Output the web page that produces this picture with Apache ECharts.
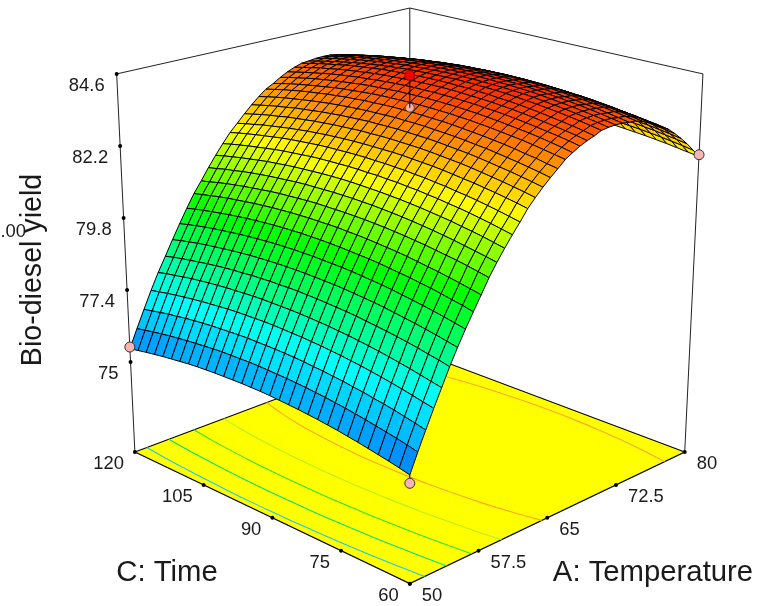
<!DOCTYPE html>
<html><head><meta charset="utf-8">
<style>html,body{margin:0;padding:0;background:#fff}#c{width:758px;height:606px}</style>
<script src="https://cdn.jsdelivr.net/npm/echarts@6/dist/echarts.min.js"></script>
</head><body><div id="c"></div>
<script>
const temperatureRange = [50, 80];
const timeRange = [60, 120];
const yTickLabels = ['84.6', '82.2', '79.8', '77.4', '75'];
const timeTickLabels = ['60', '75', '90', '105', '120'];
const temperatureTickLabels = ['50', '57.5', '65', '72.5', '80'];
// rows: temperature 50..80 in 41 steps, columns: time 60..120 in 31 steps
const yieldGrid = [
[75.26,75.34,75.41,75.47,75.53,75.59,75.64,75.69,75.73,75.77,75.80,75.83,75.85,75.87,75.89,75.90,75.90,75.90,75.89,75.88,75.87,75.85,75.83,75.80,75.76,75.72,75.68,75.63,75.58,75.52,75.46],
[75.87,75.95,76.02,76.08,76.14,76.20,76.25,76.30,76.34,76.38,76.41,76.44,76.46,76.48,76.49,76.50,76.51,76.51,76.50,76.49,76.48,76.46,76.43,76.40,76.37,76.33,76.29,76.24,76.19,76.13,76.07],
[76.45,76.53,76.60,76.67,76.73,76.78,76.84,76.88,76.93,76.96,77.00,77.02,77.05,77.07,77.08,77.09,77.09,77.09,77.09,77.08,77.06,77.04,77.02,76.99,76.96,76.92,76.87,76.83,76.77,76.71,76.65],
[77.02,77.09,77.16,77.23,77.29,77.35,77.40,77.45,77.49,77.53,77.56,77.59,77.61,77.63,77.64,77.65,77.66,77.66,77.65,77.64,77.63,77.61,77.58,77.55,77.52,77.48,77.44,77.39,77.34,77.28,77.22],
[77.56,77.63,77.70,77.77,77.83,77.89,77.94,77.99,78.03,78.07,78.10,78.13,78.15,78.17,78.18,78.19,78.19,78.19,78.19,78.18,78.16,78.14,78.12,78.09,78.06,78.02,77.98,77.93,77.87,77.82,77.75],
[78.11,78.19,78.25,78.32,78.38,78.43,78.48,78.52,78.56,78.60,78.63,78.65,78.67,78.69,78.70,78.71,78.71,78.70,78.70,78.68,78.67,78.64,78.62,78.59,78.55,78.51,78.46,78.41,78.36,78.30,78.23],
[78.61,78.68,78.75,78.81,78.87,78.92,78.97,79.02,79.06,79.09,79.12,79.15,79.17,79.18,79.19,79.20,79.20,79.20,79.19,79.18,79.16,79.14,79.11,79.08,79.04,79.00,78.96,78.91,78.85,78.79,78.72],
[79.08,79.15,79.22,79.28,79.34,79.39,79.44,79.49,79.53,79.56,79.59,79.62,79.64,79.65,79.66,79.67,79.67,79.67,79.66,79.65,79.63,79.61,79.58,79.55,79.51,79.47,79.43,79.38,79.32,79.26,79.19],
[79.52,79.60,79.66,79.73,79.79,79.84,79.89,79.93,79.97,80.01,80.04,80.06,80.08,80.10,80.11,80.12,80.12,80.12,80.11,80.10,80.08,80.06,80.03,80.00,79.96,79.92,79.87,79.82,79.77,79.71,79.64],
[79.95,80.02,80.09,80.15,80.21,80.26,80.31,80.36,80.40,80.43,80.46,80.49,80.51,80.52,80.54,80.54,80.54,80.54,80.53,80.52,80.50,80.48,80.45,80.42,80.38,80.34,80.30,80.25,80.19,80.13,80.07],
[80.39,80.46,80.53,80.59,80.64,80.69,80.74,80.78,80.82,80.85,80.88,80.90,80.92,80.93,80.94,80.94,80.94,80.94,80.93,80.91,80.89,80.87,80.84,80.80,80.76,80.72,80.67,80.62,80.56,80.49,80.43],
[80.77,80.84,80.90,80.96,81.02,81.07,81.12,81.16,81.20,81.23,81.26,81.28,81.30,81.31,81.32,81.32,81.32,81.31,81.30,81.29,81.27,81.24,81.21,81.18,81.14,81.10,81.05,80.99,80.94,80.87,80.81],
[81.12,81.19,81.26,81.32,81.37,81.43,81.47,81.51,81.55,81.58,81.61,81.63,81.65,81.66,81.67,81.68,81.68,81.67,81.66,81.64,81.62,81.60,81.57,81.53,81.50,81.45,81.40,81.35,81.29,81.23,81.16],
[81.45,81.52,81.59,81.65,81.71,81.76,81.80,81.85,81.88,81.92,81.94,81.97,81.98,82.00,82.00,82.01,82.01,82.00,81.99,81.98,81.96,81.93,81.90,81.87,81.83,81.78,81.73,81.68,81.62,81.56,81.49],
[81.76,81.83,81.90,81.96,82.02,82.07,82.11,82.16,82.19,82.23,82.25,82.28,82.29,82.31,82.31,82.32,82.32,82.31,82.30,82.29,82.27,82.24,82.21,82.18,82.14,82.09,82.04,81.99,81.93,81.87,81.80],
[82.09,82.16,82.22,82.28,82.33,82.38,82.42,82.46,82.50,82.53,82.55,82.57,82.59,82.60,82.60,82.60,82.60,82.59,82.58,82.56,82.54,82.51,82.48,82.44,82.40,82.35,82.30,82.25,82.18,82.12,82.05],
[82.35,82.42,82.48,82.54,82.59,82.64,82.69,82.73,82.76,82.79,82.82,82.84,82.85,82.86,82.87,82.87,82.86,82.86,82.84,82.82,82.80,82.77,82.74,82.70,82.66,82.62,82.56,82.51,82.45,82.38,82.31],
[82.59,82.66,82.72,82.78,82.83,82.88,82.93,82.97,83.00,83.03,83.06,83.08,83.09,83.10,83.11,83.11,83.10,83.10,83.08,83.06,83.04,83.01,82.98,82.94,82.90,82.86,82.80,82.75,82.69,82.62,82.55],
[82.81,82.88,82.94,83.00,83.05,83.10,83.15,83.18,83.22,83.25,83.27,83.29,83.31,83.32,83.32,83.33,83.32,83.31,83.30,83.28,83.26,83.23,83.20,83.16,83.12,83.07,83.02,82.97,82.91,82.84,82.77],
[83.01,83.07,83.14,83.19,83.25,83.30,83.34,83.38,83.41,83.44,83.47,83.49,83.50,83.51,83.52,83.52,83.52,83.51,83.49,83.48,83.45,83.43,83.39,83.36,83.31,83.27,83.22,83.16,83.10,83.03,82.96],
[83.22,83.28,83.34,83.40,83.45,83.49,83.53,83.57,83.60,83.63,83.65,83.67,83.68,83.69,83.69,83.69,83.68,83.67,83.66,83.64,83.61,83.58,83.55,83.51,83.46,83.41,83.36,83.30,83.24,83.17,83.09],
[83.36,83.43,83.49,83.55,83.60,83.64,83.68,83.72,83.75,83.78,83.80,83.82,83.83,83.84,83.84,83.84,83.83,83.82,83.80,83.78,83.76,83.73,83.69,83.65,83.61,83.56,83.51,83.45,83.38,83.32,83.24],
[83.49,83.56,83.62,83.67,83.72,83.77,83.81,83.85,83.88,83.90,83.93,83.94,83.96,83.96,83.97,83.96,83.96,83.95,83.93,83.91,83.88,83.85,83.82,83.78,83.74,83.69,83.63,83.57,83.51,83.44,83.37],
[83.59,83.66,83.72,83.77,83.82,83.87,83.91,83.95,83.98,84.01,84.03,84.04,84.06,84.07,84.07,84.07,84.06,84.05,84.03,84.01,83.99,83.96,83.92,83.88,83.84,83.79,83.73,83.68,83.61,83.54,83.47],
[83.67,83.74,83.80,83.85,83.90,83.95,83.99,84.03,84.06,84.08,84.11,84.12,84.14,84.14,84.15,84.15,84.14,84.13,84.11,84.09,84.07,84.04,84.00,83.96,83.92,83.87,83.81,83.75,83.69,83.62,83.55],
[83.77,83.83,83.89,83.94,83.99,84.03,84.07,84.10,84.13,84.16,84.18,84.19,84.20,84.21,84.21,84.20,84.19,84.18,84.16,84.14,84.11,84.08,84.04,84.00,83.95,83.90,83.84,83.78,83.71,83.64,83.57],
[83.80,83.86,83.92,83.97,84.02,84.06,84.10,84.14,84.17,84.19,84.21,84.22,84.23,84.24,84.24,84.24,84.23,84.21,84.19,84.17,84.14,84.11,84.07,84.03,83.98,83.93,83.87,83.81,83.75,83.68,83.60],
[83.81,83.87,83.93,83.98,84.03,84.07,84.11,84.15,84.18,84.20,84.22,84.23,84.24,84.25,84.25,84.25,84.24,84.22,84.20,84.18,84.15,84.12,84.08,84.04,83.99,83.94,83.88,83.82,83.76,83.69,83.61],
[83.80,83.86,83.92,83.97,84.02,84.06,84.10,84.13,84.16,84.19,84.21,84.22,84.23,84.24,84.24,84.23,84.22,84.21,84.19,84.17,84.14,84.11,84.07,84.03,83.98,83.93,83.87,83.81,83.74,83.67,83.60],
[83.76,83.82,83.88,83.94,83.98,84.03,84.06,84.10,84.13,84.15,84.17,84.19,84.20,84.20,84.20,84.20,84.19,84.17,84.15,84.13,84.10,84.07,84.03,83.99,83.94,83.89,83.83,83.77,83.71,83.64,83.56],
[83.74,83.80,83.86,83.91,83.95,83.99,84.03,84.06,84.09,84.11,84.13,84.14,84.15,84.15,84.15,84.14,84.13,84.11,84.09,84.06,84.03,84.00,83.96,83.91,83.86,83.81,83.75,83.68,83.61,83.54,83.46],
[83.66,83.72,83.78,83.83,83.87,83.91,83.95,83.98,84.01,84.03,84.04,84.06,84.06,84.07,84.06,84.06,84.04,84.03,84.01,83.98,83.95,83.91,83.87,83.83,83.78,83.72,83.67,83.60,83.53,83.46,83.38],
[83.56,83.62,83.67,83.72,83.77,83.81,83.84,83.87,83.90,83.92,83.94,83.95,83.96,83.96,83.96,83.95,83.94,83.92,83.90,83.88,83.85,83.81,83.77,83.72,83.67,83.62,83.56,83.50,83.43,83.35,83.28],
[83.43,83.49,83.54,83.59,83.64,83.68,83.72,83.75,83.77,83.79,83.81,83.82,83.83,83.83,83.83,83.82,83.81,83.80,83.77,83.75,83.72,83.68,83.64,83.60,83.55,83.49,83.43,83.37,83.30,83.23,83.15],
[83.28,83.34,83.39,83.44,83.49,83.53,83.57,83.60,83.62,83.64,83.66,83.67,83.68,83.68,83.68,83.67,83.66,83.65,83.62,83.60,83.57,83.53,83.49,83.45,83.40,83.34,83.28,83.22,83.15,83.08,83.00],
[83.15,83.21,83.26,83.31,83.35,83.38,83.42,83.45,83.47,83.49,83.50,83.51,83.52,83.51,83.51,83.50,83.48,83.47,83.44,83.41,83.38,83.34,83.30,83.25,83.20,83.14,83.08,83.01,82.94,82.86,82.78],
[82.95,83.01,83.06,83.11,83.15,83.19,83.22,83.25,83.27,83.29,83.30,83.31,83.32,83.32,83.31,83.30,83.29,83.27,83.24,83.22,83.18,83.14,83.10,83.05,83.00,82.94,82.88,82.81,82.74,82.66,82.58],
[82.73,82.79,82.84,82.89,82.93,82.97,83.00,83.03,83.05,83.07,83.08,83.09,83.10,83.10,83.09,83.08,83.07,83.05,83.02,83.00,82.96,82.92,82.88,82.83,82.78,82.72,82.66,82.59,82.52,82.44,82.36],
[82.49,82.55,82.60,82.65,82.69,82.73,82.76,82.79,82.81,82.83,82.84,82.85,82.86,82.86,82.85,82.84,82.83,82.81,82.78,82.75,82.72,82.68,82.64,82.59,82.54,82.48,82.42,82.35,82.28,82.20,82.12],
[82.22,82.28,82.33,82.38,82.42,82.46,82.49,82.52,82.54,82.56,82.58,82.59,82.59,82.59,82.58,82.57,82.56,82.54,82.52,82.49,82.45,82.41,82.37,82.32,82.27,82.21,82.15,82.08,82.01,81.94,81.85],
[81.94,81.99,82.04,82.09,82.13,82.17,82.20,82.23,82.26,82.27,82.29,82.30,82.30,82.30,82.30,82.29,82.27,82.25,82.23,82.20,82.16,82.13,82.08,82.03,81.98,81.92,81.86,81.80,81.72,81.65,81.57]
];
// floor contour lines: temperature at each listed time
const contourTimes = [60,65,70,75,80,85,90,95,100,105,110,115,120];
const contour764 = [51.43,51.20,51.01,50.85,50.74,50.66,50.62,50.61,50.65,50.72,50.83,50.97,51.16];
const contour780 = [53.61,53.35,53.14,52.97,52.85,52.76,52.72,52.72,52.76,52.84,52.97,53.13,53.35];
const contour796 = [56.12,55.82,55.58,55.39,55.25,55.15,55.11,55.11,55.16,55.26,55.41,55.61,55.87];
const contour812 = [59.17,58.80,58.51,58.28,58.11,58.00,57.95,57.96,58.03,58.16,58.36,58.62,58.96];
const contour828low = [63.44,62.89,62.47,62.16,61.94,61.82,61.77,61.81,61.93,62.16,62.47,62.92,63.52];
const contour828high = [77.51,77.95,78.28,78.49,78.61,78.64,78.59,78.45,78.23,77.92,77.50,76.97,76.31];
// design points: temperature, time, yield
const pointsOnSurface = [[50,120,75.52],[80,60,82.0]];
const pointFront = [50,60,75.0];
const pointFrontSurface = [50,60,75.26];
const pointCenterHigh = [65,90,84.55];
const pointCenterLow = [65,90,83.52];
const colorValues = [75.3,77.2,79.8,81.9,84.25];
const colorList = ['#0078ff','#00ffff','#00ff00','#ffff00','#ff2800'];

const CX=409.8, CY=269, F=2128, D=7.5, H=0.708, S=0.34, C=0.94, ZMIN=71.8, ZMAX=84.6;
const W=758, HT=606;
function project(A,T,y){
  const u=(A-temperatureRange[0])/(temperatureRange[1]-temperatureRange[0]);
  const v=(T-timeRange[0])/(timeRange[1]-timeRange[0]);
  const z=-H+2*H*(y-ZMIN)/(ZMAX-ZMIN);
  const r=u-v,d=u+v-1;
  const Z=D+d*C-z*S, Y=z*C+d*S;
  return [CX+F*r/Z, CY-F*Y/Z, Z];
}
function xy(p){return [p[0],p[1]];}
function lerp(a,b,t){return [a[0]+(b[0]-a[0])*t,a[1]+(b[1]-a[1])*t];}
function cellColor(y){
  for(let i=0;i<colorValues.length-1;i++){
    if(y<=colorValues[i+1]){
      const t=Math.max(0,(y-colorValues[i])/(colorValues[i+1]-colorValues[i]));
      return echarts.color.lerp(t,[colorList[i],colorList[i+1]]);
    }
  }
  return colorList[colorList.length-1];
}
const nA=yieldGrid.length, nT=yieldGrid[0].length;
const gA=i=>temperatureRange[0]+(temperatureRange[1]-temperatureRange[0])*i/(nA-1);
const gT=j=>timeRange[0]+(timeRange[1]-timeRange[0])*j/(nT-1);
const gridP=(i,j)=>project(gA(i),gT(j),yieldGrid[i][j]);
const cells=[];
for(let i=0;i<nA-1;i++)for(let j=0;j<nT-1;j++){
  const ps=[gridP(i,j),gridP(i+1,j),gridP(i+1,j+1),gridP(i,j+1)];
  const depth=(ps[0][2]+ps[1][2]+ps[2][2]+ps[3][2])/4;
  const mean=(yieldGrid[i][j]+yieldGrid[i+1][j]+yieldGrid[i+1][j+1]+yieldGrid[i][j+1])/4;
  cells.push([i,j,depth,mean]);
}
cells.sort((a,b)=>b[2]-a[2]);

const pL0=project(50,120,ZMIN), pR0=project(80,60,ZMIN), pF0=project(50,60,ZMIN), pB0=project(80,120,ZMIN);
const pLT=project(50,120,ZMAX), pRT=project(80,60,ZMAX), pBT=project(80,120,ZMAX);

const series=[];
function addLine(pts,color,width,z,smooth){
  series.push({type:'line',data:pts,symbol:'none',silent:true,animation:false,clip:false,z:z,smooth:smooth||false,
    lineStyle:{color:color,width:width}});
}
function addDots(pts,size,fill,border,z,opacity){
  series.push({type:'scatter',data:pts,symbol:'circle',symbolSize:size,silent:true,animation:false,clip:false,z:z,
    itemStyle:{color:fill,borderColor:border,borderWidth:border==='none'?0:1,opacity:opacity||1}});
}
// frame behind
addLine([xy(pLT),xy(pBT),xy(pRT)],'#222',1,2);
addLine([xy(pBT),xy(pB0)],'#222',1,2);
addLine([xy(pLT),xy(pL0)],'#222',1,2);
addLine([xy(pRT),xy(pR0)],'#222',1,2);
// floor
series.push({type:'custom',silent:true,animation:false,clip:false,z:3,data:[[0,0]],
  renderItem:function(p,api){
    return {type:'polygon',shape:{points:[pL0,pF0,pR0,pB0].map(q=>api.coord(xy(q)))},style:{fill:'#ffff00',stroke:'#000',lineWidth:1.2}};
  }});
const contours=[[contour764,'#19c8f0'],[contour780,'#00e080'],[contour796,'#28e628'],[contour812,'#b4f01e'],[contour828low,'#ffa528'],[contour828high,'#ffa528']];
contours.forEach(c=>addLine(c[0].map((a,k)=>xy(project(a,contourTimes[k],ZMIN))),c[1],1.1,4,0.4));
// surface
series.push({type:'custom',silent:true,animation:false,clip:false,z:5,progressive:0,data:cells,
  renderItem:function(p,api){
    const i=api.value(0),j=api.value(1);
    const pts=[gridP(i,j),gridP(i+1,j),gridP(i+1,j+1),gridP(i,j+1)].map(q=>api.coord(xy(q)));
    return {type:'polygon',shape:{points:pts},style:{fill:cellColor(api.value(3)),stroke:'#000',lineWidth:1}};
  }});
// ticks
const yTicks=yTickLabels.map(Number);
const yTickPts=yTicks.map(v=>lerp(pLT,pL0,(84.6-v)/(84.6-72)));
const tTickPts=timeTickLabels.map((s,k)=>lerp(pF0,pL0,k/(timeTickLabels.length-1)));
const aTickPts=temperatureTickLabels.map((s,k)=>lerp(pF0,pR0,k/(temperatureTickLabels.length-1)));
addDots(yTickPts.concat(tTickPts,aTickPts),4,'#000','none',6);
// stems and design points
addLine([xy(project(...pointFront)),xy(project(...pointFrontSurface))],'#000',1,7);
addLine([xy(project(...pointCenterHigh)),xy(project(...pointCenterLow))],'#000',1,7);
addDots(pointsOnSurface.concat([pointFront]).map(q=>xy(project(...q))),10,'#f8b4b4','#333',8);
addDots([xy(project(...pointCenterLow))],9,'#f8c0c8','#333',6,0.8);
addDots([xy(project(...pointCenterHigh))],10,'#f00000','#a00000',8);

const tickFont='18.4px "Liberation Sans", Arial, sans-serif';
const titleFont='28.6px "Liberation Sans", Arial, sans-serif';
const axisFont='29.3px "Liberation Sans", Arial, sans-serif';
const ink='#1a1a1a';
const graphics=[];
function label(text,x,y,align,font,rot){
  graphics.push({type:'text',x:x,y:y,rotation:rot||0,z:20,silent:true,
    style:{text:text,font:font,fill:ink,textAlign:align,textVerticalAlign:'middle'}});
}
yTickLabels.forEach((s,k)=>label(s,yTickPts[k][0]-12,yTickPts[k][1]+12,'right',tickFont));
timeTickLabels.forEach((s,k)=>label(s,tTickPts[k][0]-11,tTickPts[k][1]+12,'right',tickFont));
temperatureTickLabels.forEach((s,k)=>label(s,aTickPts[k][0]+12,aTickPts[k][1]+12,'left',tickFont));
label('1.00',26,232,'right',tickFont);
label('Bio-diesel yield',33,270,'center',titleFont,Math.PI/2);
label('C: Time',167,573,'center',axisFont);
label('A: Temperature',653,573,'center',axisFont);

const chart=echarts.init(document.getElementById('c'),null,{width:W,height:HT});
chart.setOption({
  animation:false,backgroundColor:'#fff',
  grid:{left:0,right:0,top:0,bottom:0},
  xAxis:{type:'value',min:0,max:W,show:false},
  yAxis:{type:'value',min:0,max:HT,inverse:true,show:false},
  series:series,
  graphic:{elements:graphics}
});
</script></body></html>
